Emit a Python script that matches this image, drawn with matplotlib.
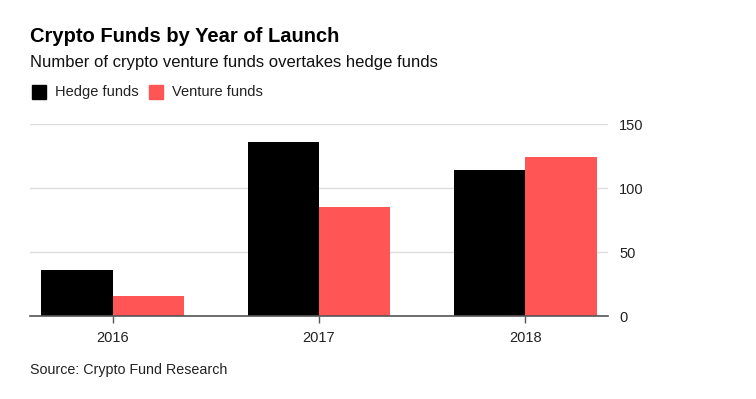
import matplotlib.pyplot as plt
import numpy as np

years = ['2016', '2017', '2018']
hedge_funds = [36, 136, 114]
venture_funds = [16, 85, 124]
y_ticks = [0, 50, 100, 150]

plt.rcParams['font.family'] = ['Liberation Sans', 'DejaVu Sans']

fig = plt.figure(figsize=(7.56, 3.99), dpi=100)
ax = fig.add_axes([30 / 756, 1 - 316 / 399, (608 - 30) / 756, (316 - 124) / 399])

x = np.arange(len(years))
w = 0.346
ax.bar(x - w / 2, hedge_funds, w, color='black', label='Hedge funds')
ax.bar(x + w / 2, venture_funds, w, color='#ff5555', label='Venture funds')

ax.set_xlim(-0.4, 2.4)
ax.set_ylim(0, 150)
ax.set_xticks(x, years)
ax.set_yticks(y_ticks)
ax.yaxis.tick_right()
ax.tick_params(axis='y', length=0, pad=8, labelsize=10.5, labelcolor='#222222')
ax.tick_params(axis='x', length=5, width=1, color='#555555', pad=6, labelsize=10.5, labelcolor='#222222')
for lbl in ax.get_yticklabels():
    lbl.set_horizontalalignment('left')
ax.grid(axis='y', color='#dddddd', linewidth=1)
ax.set_axisbelow(True)
for s in ['top', 'right', 'left']:
    ax.spines[s].set_visible(False)
ax.spines['bottom'].set_color('#555555')
ax.spines['bottom'].set_linewidth(1.2)
ax.spines['bottom'].set_zorder(3)

fig.text(30 / 756, 1 - 37 / 399, 'Crypto Funds by Year of Launch', fontsize=14.5,
         fontweight='bold', va='center', ha='left', color='black')
fig.text(30 / 756, 1 - 62 / 399, 'Number of crypto venture funds overtakes hedge funds',
         fontsize=12, va='center', ha='left', color='#111111')

# legend drawn by hand so the squares sit like the original
fig.patches.append(plt.Rectangle((32 / 756, 1 - 99 / 399), 14 / 756, 14 / 399,
                                 transform=fig.transFigure, color='black'))
fig.text(55 / 756, 1 - 92 / 399, 'Hedge funds', fontsize=10.5, va='center', ha='left', color='#222222')
fig.patches.append(plt.Rectangle((149 / 756, 1 - 99 / 399), 14 / 756, 14 / 399,
                                 transform=fig.transFigure, color='#ff5555'))
fig.text(172 / 756, 1 - 92 / 399, 'Venture funds', fontsize=10.5, va='center', ha='left', color='#222222')

fig.text(30 / 756, 1 - 370 / 399, 'Source: Crypto Fund Research', fontsize=10.3,
         va='center', ha='left', color='#222222')

plt.savefig('out.png', dpi=100)
